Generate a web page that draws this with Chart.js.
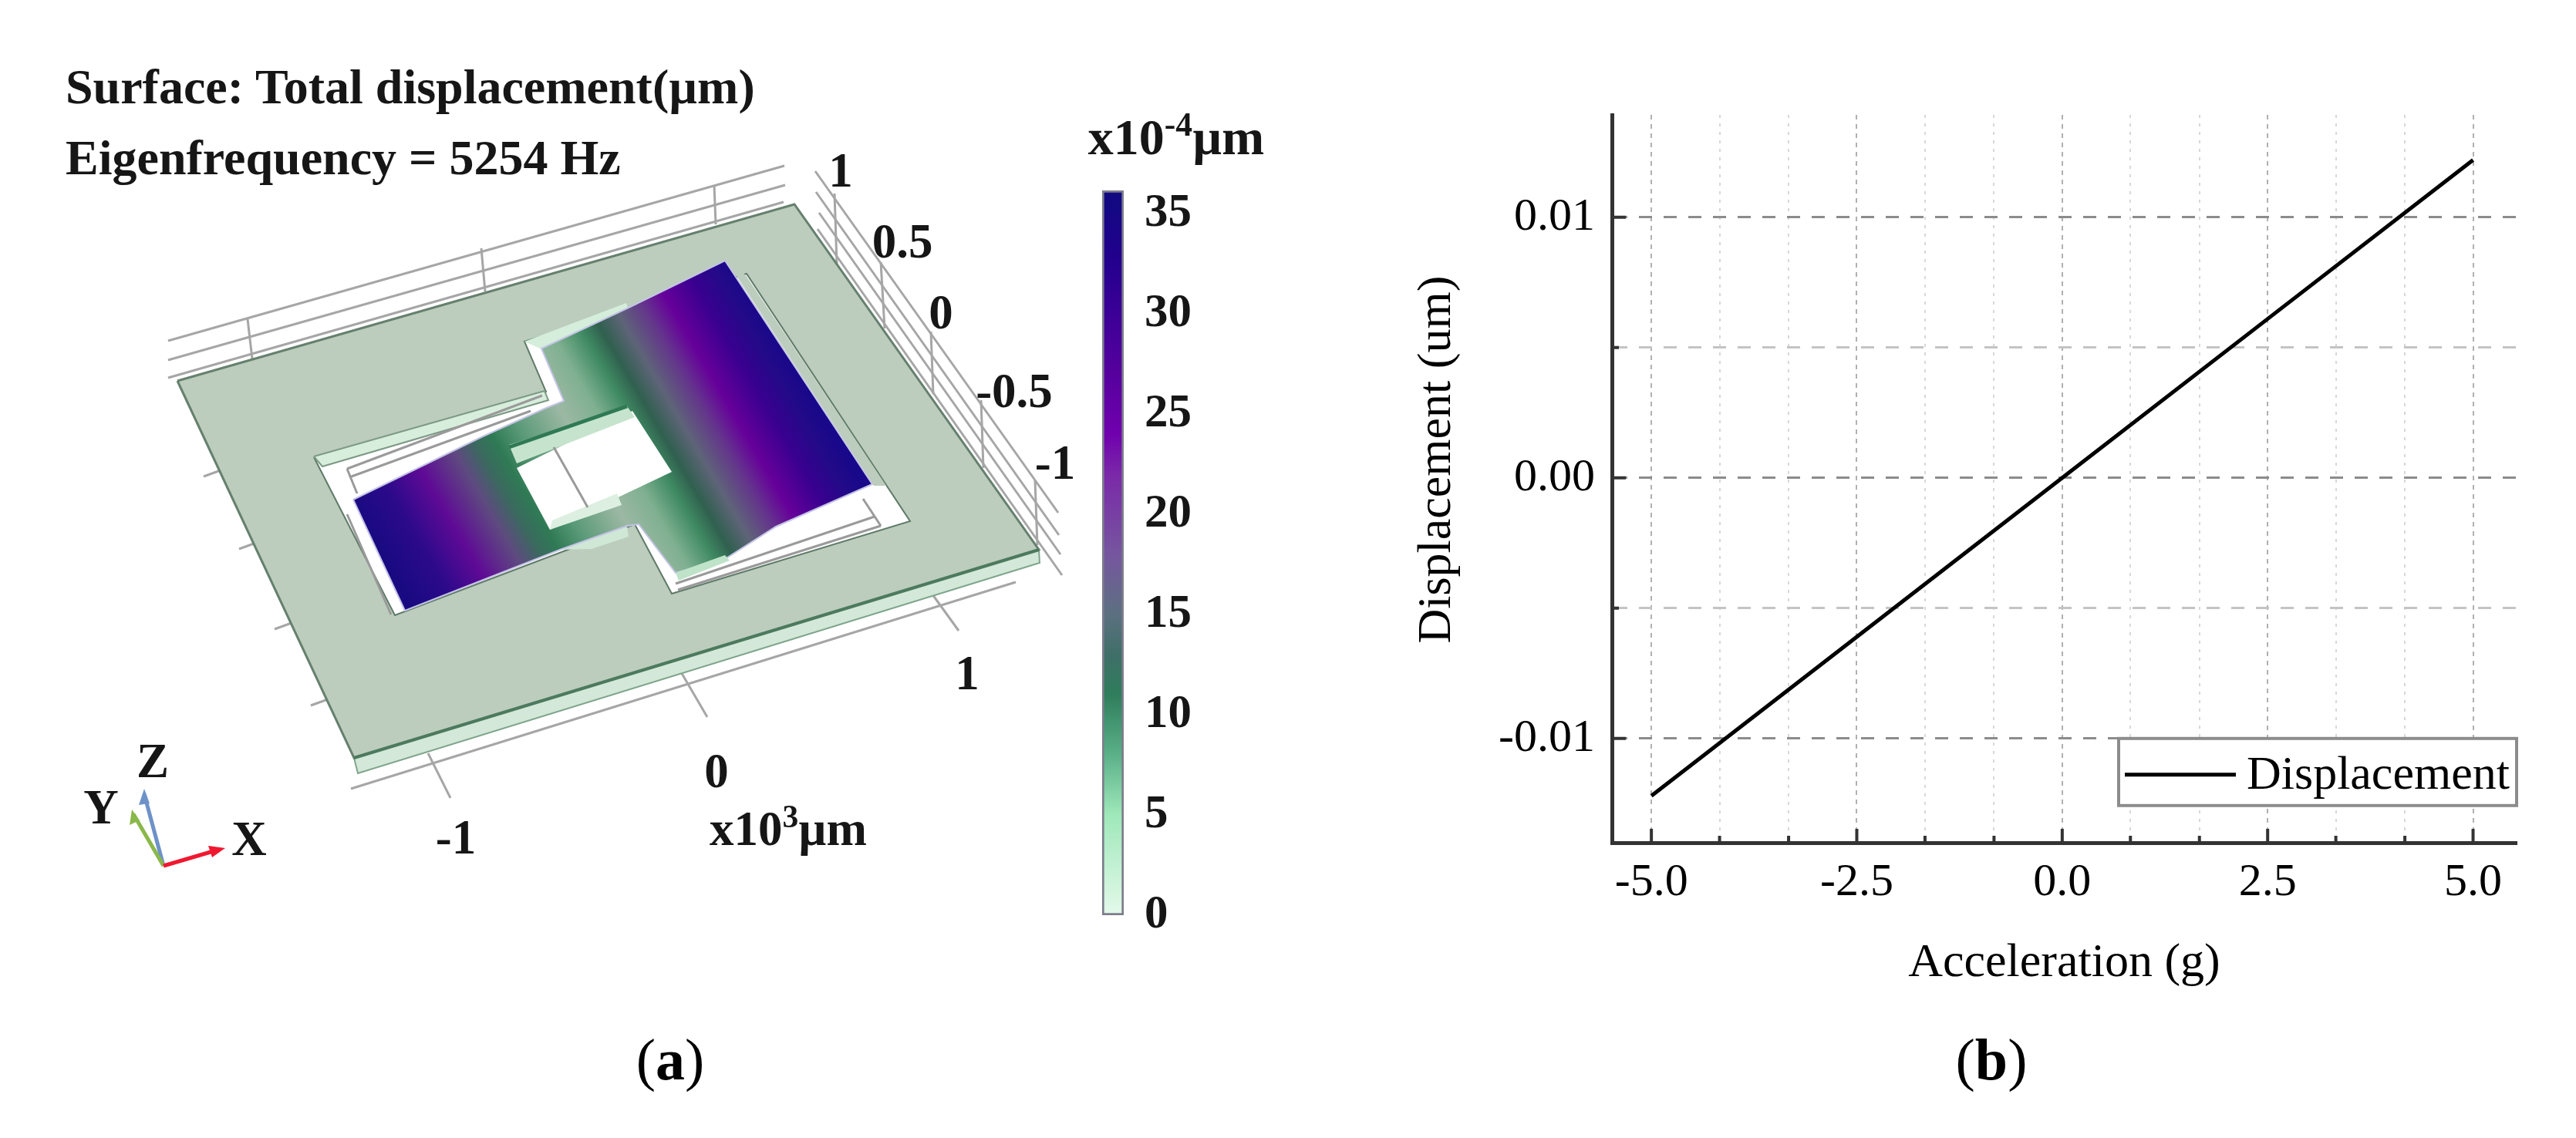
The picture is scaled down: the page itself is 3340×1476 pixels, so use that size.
<!DOCTYPE html>
<html>
<head>
<meta charset="utf-8">
<script src="https://cdn.jsdelivr.net/npm/chart.js@4"></script>
<style>
  html, body { margin: 0; background: #fff; }
  body { position: relative; width: 3340px; height: 1476px; overflow: hidden; }
  canvas { position: absolute; }
  .lbl { position: absolute; transform: translate(-50%, -50%); white-space: nowrap; line-height: 1;
         font: bold 63px "Liberation Serif", serif; color: #161616; }
  .left { transform: translate(0, -50%); }
  .lbl sup { font-size: 0.66em; line-height: 0; vertical-align: 0.55em; }
  .cap { position: absolute; transform: translate(-50%, -50%); font: 76px "Liberation Serif", serif; color: #000; line-height: 1; }
</style>
</head>
<body>
<canvas id="surfaceChart" style="left:0;top:0"></canvas>
<canvas id="colorbarChart" style="left:1380px;top:200px"></canvas>
<canvas id="lineChart" style="left:1800px;top:100px"></canvas>

<div class="lbl left" style="left:85px;top:113px;font-size:64px">Surface: Total displacement(µm)</div>
<div class="lbl left" style="left:85px;top:205px;font-size:64px">Eigenfrequency = 5254 Hz</div>
<div class="lbl" style="left:1525px;top:178px;font-size:66px">x10<sup>-4</sup>µm</div>
<div class="lbl" style="left:1090px;top:221px">1</div>
<div class="lbl" style="left:1170px;top:313px">0.5</div>
<div class="lbl" style="left:1220px;top:405px">0</div>
<div class="lbl" style="left:1315px;top:507px">-0.5</div>
<div class="lbl" style="left:1368px;top:600px">-1</div>
<div class="lbl" style="left:1254px;top:873px">1</div>
<div class="lbl" style="left:929px;top:1000px">0</div>
<div class="lbl" style="left:591px;top:1086px">-1</div>
<div class="lbl" style="left:1022px;top:1075px">x10<sup>3</sup>µm</div>
<div class="lbl" style="left:198px;top:987px">Z</div>
<div class="lbl" style="left:131px;top:1047px">Y</div>
<div class="lbl" style="left:323px;top:1088px">X</div>
<div class="cap" style="left:869px;top:1374px">(<b>a</b>)</div>
<div class="cap" style="left:2582px;top:1374px">(<b>b</b>)</div>

<script>
// (b) acceleration vs displacement
const accelValues = [-5, -2.5, 0, 2.5, 5];
const displacementValues = [-0.0122, -0.0061, 0, 0.0061, 0.0122];
const xTickValues = [-5, -4.17, -3.33, -2.5, -1.67, -0.83, 0, 0.83, 1.67, 2.5, 3.33, 4.17, 5];
const xMajorTicks = [-5, -2.5, 0, 2.5, 5];
const xMajorLabels = ['-5.0', '-2.5', '0.0', '2.5', '5.0'];
const yTickValues = [-0.01, -0.005, 0, 0.005, 0.01];
const yMajorTicks = [-0.01, 0, 0.01];
const yMajorLabels = ['-0.01', '0.00', '0.01'];

// (a) colour bar
const colorbarTicks = [0, 5, 10, 15, 20, 25, 30, 35];
const colorbarMax = [36.15];
const colorbarStops = [
  [0, '#e4f9ea'], [5, '#9fe8ba'], [8, '#5bb088'], [11, '#2f7d5c'], [13, '#3f6f68'], [15, '#5c7080'],
  [18, '#76569f'], [22, '#7a28a8'], [24, '#7000ae'], [27, '#56009e'], [30, '#3c0096'], [33, '#20008c'], [36.15, '#100a80']
];

// (a) geometry of the deformed plate in panel units
const plateTop = [[230, 494], [1030, 265], [1347, 713], [459, 983]];
const plateSide = [[459, 983], [1347, 713], [1348, 730], [464, 1003]];
const plateHole = [[407, 593], [708, 508], [680, 443], [968, 355], [1180, 676], [871, 770], [823, 680], [512, 798]];
const rightWall = [[942, 338], [967, 357], [1149, 630], [1133, 630]];
const slitWall = [[407, 592], [706, 507], [711, 519], [418, 605]];
const notchWall = [[680, 443], [812, 393], [815, 403], [700, 452]];
const lowerWall = [[726, 713], [813, 683], [815, 696], [767, 712]];
const paddleLip = [[876, 743], [940, 720], [946, 727], [880, 753]];
const paddle = [
  [458, 648], [624, 567], [706, 530], [731, 520], [702, 452], [813, 400], [940, 338], [1131, 628],
  [1006, 683], [940, 725], [876, 743], [828, 680], [813, 682], [726, 713], [525, 792]
];
const paddleWindow = [[670, 607], [820, 533], [871, 612], [713, 687]];
const windowWall = [[660, 577], [813, 527], [823, 541], [670, 601]];
const windowEdge = [[660, 580], [813, 527]];
const windowLower = [[713, 687], [716, 675], [800, 640], [806, 655]];
const paddleStops = [
  [0, '#1a0a82'], [0.08, '#2c0a8a'], [0.164, '#5f0a96'], [0.25, '#5e4a80'], [0.3, '#3a6a5e'], [0.34, '#2f7a55'],
  [0.4, '#5a9a78'], [0.5, '#9cb8a4'], [0.57, '#7fb090'], [0.63, '#3f8a62'], [0.67, '#30604f'], [0.72, '#5e6478'],
  [0.78, '#64348c'], [0.83, '#66009a'], [0.9, '#3a0090'], [0.96, '#220a88'], [1, '#18088a']
];
const paddleGradientAxis = [[458, 648], [960, 356]];
const gridBoxLines = [
  [[218, 442], [1017, 215]], [[218, 467], [1018, 240]], [[218, 490], [1016, 262]],
  [[321, 414], [327, 465]], [[624, 322], [629, 378]], [[926, 240], [928, 291]],
  [[1057, 222], [1372, 665]], [[1058, 249], [1373, 694]], [[1062, 276], [1375, 719]], [[1060, 297], [1377, 746]],
  [[1082, 251], [1085, 342]], [[1142, 340], [1147, 426]], [[1207, 430], [1210, 511]],
  [[1272, 519], [1275, 607]], [[1342, 623], [1345, 707]],
  [[455, 1023], [1317, 755]], [[555, 977], [584, 1035]], [[882, 870], [917, 930]], [[1209, 771], [1243, 818]],
  [[264, 618], [286, 610]], [[310, 712], [332, 704]], [[356, 816], [378, 808]], [[403, 915], [425, 907]]
];
const innerLines = [
  [[450, 608], [703, 513]], [[453, 619], [688, 533]], [[450, 608], [463, 640]], [[450, 667], [507, 797]],
  [[879, 765], [1142, 682]], [[876, 757], [1134, 670]], [[1119, 647], [1142, 682]]
];
const windowLines = [[[718, 580], [762, 658]]];
const triadAxes = [
  { line: [[212, 1123], [187, 1030]], head: [[187, 1023], [180, 1044], [194, 1042]], color: '#6e92c8' },
  { line: [[212, 1123], [173, 1056]], head: [[171, 1050], [168, 1070], [181, 1064]], color: '#8ab84a' },
  { line: [[212, 1123], [280, 1103]], head: [[292, 1100], [270, 1097], [275, 1112]], color: '#f01830' }
];

const toXY = pts => pts.map(p => ({ x: p[0], y: p[1] }));

function polygon(pts, fill, stroke, width) {
  return {
    data: toXY(pts.concat([pts[0]])), showLine: true, pointRadius: 0, tension: 0, clip: false,
    fill: 'shape', backgroundColor: fill, borderColor: stroke || 'transparent', borderWidth: width || 0
  };
}

function polyline(pts, color, width) {
  return { data: toXY(pts), showLine: true, pointRadius: 0, tension: 0, clip: false, fill: false, borderColor: color, borderWidth: width };
}

function paddleFill(ctx) {
  const { chart } = ctx;
  if (!chart.chartArea) return '#5f0a96';
  const sx = chart.scales.x, sy = chart.scales.y;
  const [a, b] = paddleGradientAxis;
  const g = chart.ctx.createLinearGradient(sx.getPixelForValue(a[0]), sy.getPixelForValue(a[1]), sx.getPixelForValue(b[0]), sy.getPixelForValue(b[1]));
  paddleStops.forEach(s => g.addColorStop(s[0], s[1]));
  return g;
}

function initSurfaceChart() {
  // painter's order: first entry is at the back
  const layers = [
    ...gridBoxLines.map(l => polyline(l, '#a6a6a6', 3)),
    polygon(plateSide, '#d3e8d8', '#7fa58c', 2),
    polygon(plateTop, '#bccdbd', '#66806e', 3),
    polyline([plateTop[3], plateTop[2]], '#4c7a5e', 4),
    polygon(plateHole, '#ffffff', '#5f7a68', 2),
    polygon(slitWall, '#d8eedd', '#7d9a86', 2),
    polygon(notchWall, '#d5eedb'),
    polygon(lowerWall, '#cfe8d6'),
    ...innerLines.map(l => polyline(l, '#9a9a9a', 3)),
    polygon(rightWall, '#bccdbd'),
    polygon(paddle, paddleFill, '#c4c4e6', 2),
    polygon(paddleLip, '#bfe3c9'),
    polygon(paddleWindow, '#ffffff'),
    polygon(windowWall, '#c6e4cd'),
    polyline(windowEdge, '#2f7a55', 5),
    polygon(windowLower, '#dcefe0'),
    ...windowLines.map(l => polyline(l, '#9a9a9a', 3)),
    ...triadAxes.flatMap(t => [polyline(t.line, t.color, 5), polygon(t.head, t.color)])
  ];
  layers.forEach((d, i) => { d.order = layers.length - i; });

  const canvas = document.getElementById('surfaceChart');
  canvas.width = 1380;
  canvas.height = 1300;
  new Chart(canvas, {
    type: 'scatter',
    data: { datasets: layers },
    options: {
      responsive: false, animation: false, devicePixelRatio: 1,
      plugins: { legend: { display: false }, tooltip: { enabled: false } },
      scales: {
        x: { type: 'linear', min: 0, max: 1380, display: false },
        y: { type: 'linear', min: 0, max: 1300, reverse: true, display: false }
      }
    }
  });
}

function initColorbar() {
  const canvas = document.getElementById('colorbarChart');
  canvas.width = 280;
  canvas.height = 1040;
  new Chart(canvas, {
    type: 'bar',
    data: {
      labels: ['x10-4µm'],
      datasets: [{
        data: colorbarMax,
        barPercentage: 1, categoryPercentage: 1,
        borderColor: '#7d7d8c', borderWidth: 3, borderSkipped: false,
        backgroundColor(ctx) {
          const { chart } = ctx;
          if (!chart.chartArea) return '#5f0a96';
          const y = chart.scales.y;
          const g = chart.ctx.createLinearGradient(0, y.getPixelForValue(0), 0, y.getPixelForValue(colorbarMax[0]));
          colorbarStops.forEach(s => g.addColorStop(s[0] / colorbarMax[0], s[1]));
          return g;
        }
      }]
    },
    options: {
      responsive: false, animation: false, devicePixelRatio: 1,
      layout: { padding: { left: 49, top: 47, bottom: 53, right: 0 } },
      plugins: { legend: { display: false }, tooltip: { enabled: false } },
      scales: {
        x: { display: false },
        y: {
          position: 'right', min: 0, max: colorbarMax[0],
          afterBuildTicks(s) { s.ticks = colorbarTicks.map(v => ({ value: v })); },
          afterFit(s) { s.width = 203; s.paddingTop = 0; s.paddingBottom = 0; },
          border: { display: false },
          grid: { display: false, drawTicks: false },
          ticks: { padding: 27, color: '#161616', autoSkip: false, font: { family: 'Liberation Serif', size: 61, weight: 'bold' } }
        }
      }
    }
  });
}

// ticks point into the plot, which Chart.js does not do by itself
const inwardTicks = {
  id: 'inwardTicks',
  afterDatasetsDraw(chart) {
    const { ctx, chartArea: a, scales: { x, y } } = chart;
    ctx.save();
    ctx.strokeStyle = '#333';
    ctx.lineWidth = 4;
    ctx.beginPath();
    xTickValues.forEach(v => {
      const px = x.getPixelForValue(v), len = xMajorTicks.includes(v) ? 18 : 9;
      ctx.moveTo(px, a.bottom); ctx.lineTo(px, a.bottom - len);
    });
    yTickValues.forEach(v => {
      const py = y.getPixelForValue(v), len = yMajorTicks.includes(v) ? 18 : 9;
      ctx.moveTo(a.left, py); ctx.lineTo(a.left + len, py);
    });
    ctx.stroke();
    ctx.restore();
  }
};

const legendBox = {
  id: 'legendBox',
  afterDatasetsDraw(chart) {
    const { ctx, chartArea: a } = chart;
    const ds = chart.data.datasets[0];
    const left = a.right - 516, top = chart.scales.y.getPixelForValue(-0.01), w = 516, h = 87;
    ctx.save();
    ctx.fillStyle = '#fff';
    ctx.fillRect(left, top, w, h);
    ctx.strokeStyle = '#8c8c8c';
    ctx.lineWidth = 4;
    ctx.strokeRect(left, top, w, h);
    ctx.strokeStyle = ds.borderColor;
    ctx.lineWidth = ds.borderWidth;
    ctx.beginPath();
    ctx.moveTo(left + 8, top + 47); ctx.lineTo(left + 152, top + 47);
    ctx.stroke();
    ctx.fillStyle = '#000';
    ctx.font = '62px "Liberation Serif"';
    ctx.textBaseline = 'middle';
    ctx.fillText(ds.label, left + 166, top + 49);
    ctx.restore();
  }
};

// y title sits a little above the middle of the axis in the reference
const yTitle = {
  id: 'yTitle',
  afterDraw(chart) {
    const { ctx, scales: { y } } = chart;
    ctx.save();
    ctx.translate(64, y.getPixelForValue(0.0007));
    ctx.rotate(-Math.PI / 2);
    ctx.fillStyle = '#000';
    ctx.font = '62px "Liberation Serif"';
    ctx.textAlign = 'center';
    ctx.textBaseline = 'middle';
    ctx.fillText('Displacement (um)', 0, 0);
    ctx.restore();
  }
};

function initLineChart() {
  const canvas = document.getElementById('lineChart');
  canvas.width = 1540;
  canvas.height = 1200;
  new Chart(canvas, {
    type: 'scatter',
    data: {
      datasets: [{
        label: 'Displacement',
        data: accelValues.map((x, i) => ({ x, y: displacementValues[i] })),
        showLine: true, pointRadius: 0, borderColor: '#000', borderWidth: 5, tension: 0
      }]
    },
    options: {
      responsive: false, animation: false, devicePixelRatio: 1,
      layout: { padding: { left: 0, top: 49, right: 77, bottom: 0 } },
      plugins: { legend: { display: false }, tooltip: { enabled: false } },
      scales: {
        x: {
          type: 'linear', min: -5.48, max: 5.53,
          afterBuildTicks(s) { s.ticks = xTickValues.map(v => ({ value: v })); },
          afterFit(s) { s.height = 207; s.paddingLeft = 0; s.paddingRight = 0; },
          border: { color: '#333', width: 5, dash: c => (c.tick && xMajorTicks.includes(c.tick.value)) ? [6, 6] : [4, 7] },
          grid: {
            drawTicks: false,
            color: c => (c.tick && xMajorTicks.includes(c.tick.value)) ? '#b0b0b0' : '#d8d8d8',
            lineWidth: 2
          },
          ticks: {
            padding: 16, color: '#000', autoSkip: false, maxRotation: 0,
            font: { family: 'Liberation Serif', size: 60 },
            callback: v => { const i = xMajorTicks.indexOf(v); return i < 0 ? '' : xMajorLabels[i]; }
          },
          title: { display: true, text: 'Acceleration (g)', color: '#000', padding: { bottom: 13 }, font: { family: 'Liberation Serif', size: 62 } }
        },
        y: {
          type: 'linear', min: -0.014, max: 0.01393,
          afterBuildTicks(s) { s.ticks = yTickValues.map(v => ({ value: v })); },
          afterFit(s) { s.width = 290; s.paddingTop = 0; s.paddingBottom = 0; },
          border: { color: '#333', width: 5, dash: [17, 15] },
          grid: {
            drawTicks: false,
            color: c => (c.tick && yMajorTicks.includes(c.tick.value)) ? '#8c8c8c' : '#c4c4c4',
            lineWidth: 3
          },
          ticks: {
            padding: 22, color: '#000', autoSkip: false,
            font: { family: 'Liberation Serif', size: 60 },
            callback: v => { const i = yMajorTicks.indexOf(v); return i < 0 ? '' : yMajorLabels[i]; }
          }
        }
      }
    },
    plugins: [inwardTicks, legendBox, yTitle]
  });
}

initSurfaceChart();
initColorbar();
initLineChart();
</script>
</body>
</html>
